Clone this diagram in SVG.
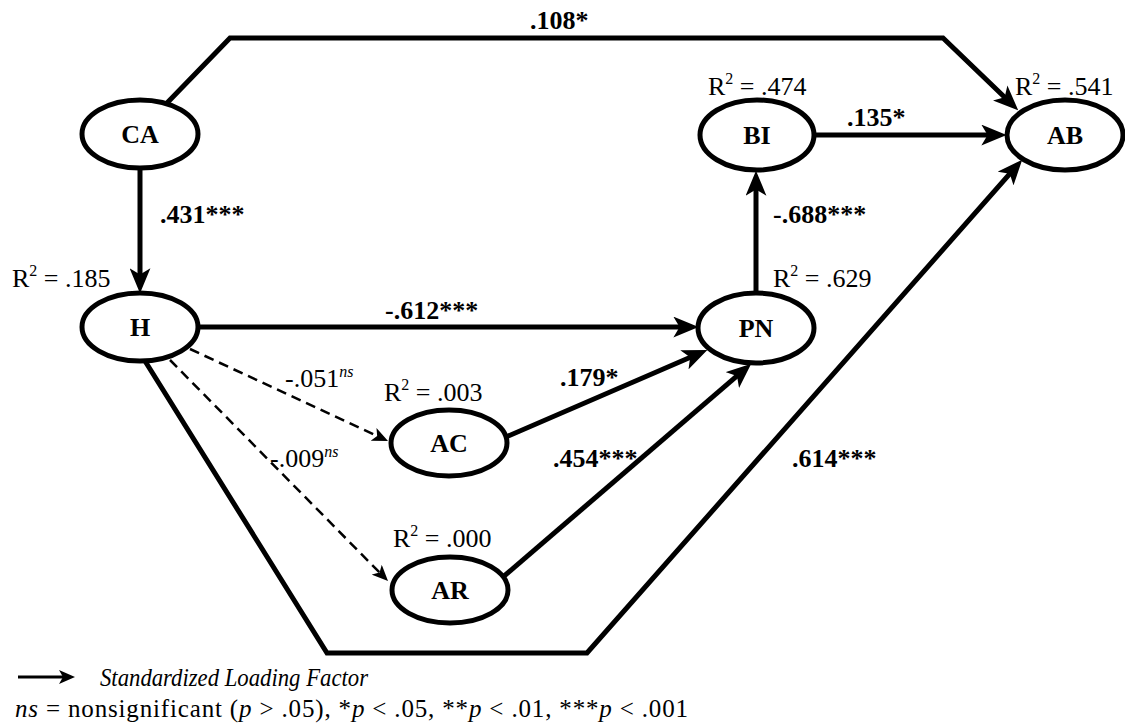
<svg xmlns="http://www.w3.org/2000/svg" width="1125" height="728" viewBox="0 0 1125 728" font-family="'Liberation Serif', 'Times New Roman', 'DejaVu Serif', serif">
  <style>
    text { font-family: "Liberation Serif", "Times New Roman", "DejaVu Serif", serif; fill: #000; }
    .node { fill: #ffffff; stroke: #000000; stroke-width: 5; }
    .nlabel { font-weight: bold; font-size: 26px; text-anchor: middle; }
    .path { fill: none; stroke: #000000; stroke-width: 5; stroke-linejoin: miter; }
    .ns { fill: none; stroke: #000000; stroke-width: 2.5; stroke-dasharray: 10 6; }
    .coef { font-weight: bold; font-size: 26px; }
    .coefns { font-size: 26px; }
    .r2 { font-size: 26px; }
    .legend { font-size: 25px; }
    .sup { font-size: 16px; }
    .it { font-style: italic; }
  </style>
  <defs>
    <marker id="head" markerUnits="userSpaceOnUse" viewBox="0 0 24 20" markerWidth="25" markerHeight="21" refX="16" refY="10" orient="auto">
      <path d="M0,0 L24,10 L0,20 L6,10 z" fill="#000"/>
    </marker>
    <marker id="headSmall" markerUnits="userSpaceOnUse" viewBox="0 0 16 14" markerWidth="16" markerHeight="14" refX="11" refY="7" orient="auto">
      <path d="M0,0 L16,7 L0,14 L4,7 z" fill="#000"/>
    </marker>
  </defs>

  <!-- structural paths -->
  <g id="connectors">
    <line class="path" x1="140" y1="168" x2="140" y2="285" marker-end="url(#head)"/>
    <line class="path" x1="198" y1="327" x2="690" y2="327" marker-end="url(#head)"/>
    <line class="path" x1="756" y1="293" x2="756" y2="179" marker-end="url(#head)"/>
    <line class="path" x1="815" y1="135" x2="998" y2="135" marker-end="url(#head)"/>
    <polyline class="path" points="167,103 230,38 943,38 1012.2,104.5" marker-end="url(#head)"/>
    <polyline class="path" points="145,361 327,653 587,653 1016.7,166" marker-end="url(#head)"/>
    <line class="path" x1="506" y1="437" x2="699.7" y2="353.2" marker-end="url(#head)"/>
    <line class="path" x1="503" y1="577" x2="744.9" y2="369.2" marker-end="url(#head)"/>
    <line class="ns" x1="190" y1="349" x2="383.5" y2="439" marker-end="url(#headSmall)"/>
    <line class="ns" x1="170" y1="360" x2="384.5" y2="577.5" marker-end="url(#headSmall)"/>
  </g>

  <!-- latent constructs -->
  <g id="node-CA">
    <ellipse class="node" cx="140" cy="134" rx="58" ry="34"/>
    <text class="nlabel" x="140" y="143">CA</text>
  </g>
  <g id="node-H">
    <ellipse class="node" cx="140" cy="327" rx="58" ry="34"/>
    <text class="nlabel" x="140" y="336">H</text>
    <text class="r2" x="12" y="287">R<tspan class="sup" dy="-11">2</tspan><tspan dy="11"> = .185</tspan></text>
  </g>
  <g id="node-AC">
    <ellipse class="node" cx="449" cy="443" rx="58" ry="33"/>
    <text class="nlabel" x="449" y="452">AC</text>
    <text class="r2" x="384" y="401">R<tspan class="sup" dy="-11">2</tspan><tspan dy="11"> = .003</tspan></text>
  </g>
  <g id="node-AR">
    <ellipse class="node" cx="450" cy="590" rx="58" ry="33"/>
    <text class="nlabel" x="450" y="599">AR</text>
    <text class="r2" x="393" y="547">R<tspan class="sup" dy="-11">2</tspan><tspan dy="11"> = .000</tspan></text>
  </g>
  <g id="node-PN">
    <ellipse class="node" cx="756" cy="328" rx="58" ry="35"/>
    <text class="nlabel" x="756" y="337">PN</text>
    <text class="r2" x="773" y="287">R<tspan class="sup" dy="-11">2</tspan><tspan dy="11"> = .629</tspan></text>
  </g>
  <g id="node-BI">
    <ellipse class="node" cx="757" cy="135" rx="57" ry="35"/>
    <text class="nlabel" x="757" y="144">BI</text>
    <text class="r2" x="708" y="95">R<tspan class="sup" dy="-11">2</tspan><tspan dy="11"> = .474</tspan></text>
  </g>
  <g id="node-AB">
    <ellipse class="node" cx="1065" cy="135" rx="58" ry="35"/>
    <text class="nlabel" x="1065" y="144">AB</text>
    <text class="r2" x="1015" y="95">R<tspan class="sup" dy="-11">2</tspan><tspan dy="11"> = .541</tspan></text>
  </g>

  <!-- path coefficients -->
  <g id="coefficients">
    <text class="coef" x="530" y="29">.108*</text>
    <text class="coef" x="160" y="223">.431***</text>
    <text class="coef" x="847" y="126">.135*</text>
    <text class="coef" x="773" y="223">-.688***</text>
    <text class="coef" x="385" y="319">-.612***</text>
    <text class="coef" x="560" y="386">.179*</text>
    <text class="coef" x="553" y="467">.454***</text>
    <text class="coef" x="792" y="467">.614***</text>
    <text class="coefns" x="285" y="387">-.051<tspan class="sup it" dy="-10">ns</tspan></text>
    <text class="coefns" x="270" y="467">-.009<tspan class="sup it" dy="-10">ns</tspan></text>
  </g>

  <!-- key -->
  <g id="legend">
    <line x1="18" y1="677" x2="70" y2="677" stroke="#000" stroke-width="3" marker-end="url(#headSmall)"/>
    <text class="legend it" x="100" y="686" textLength="268" lengthAdjust="spacingAndGlyphs">Standardized Loading Factor</text>
    <text class="legend" x="15" y="717" textLength="673" lengthAdjust="spacing"><tspan class="it">ns</tspan> = nonsignificant (<tspan class="it">p</tspan> &gt; .05), *<tspan class="it">p</tspan> &lt; .05, **<tspan class="it">p</tspan> &lt; .01, ***<tspan class="it">p</tspan> &lt; .001</text>
  </g>
</svg>
